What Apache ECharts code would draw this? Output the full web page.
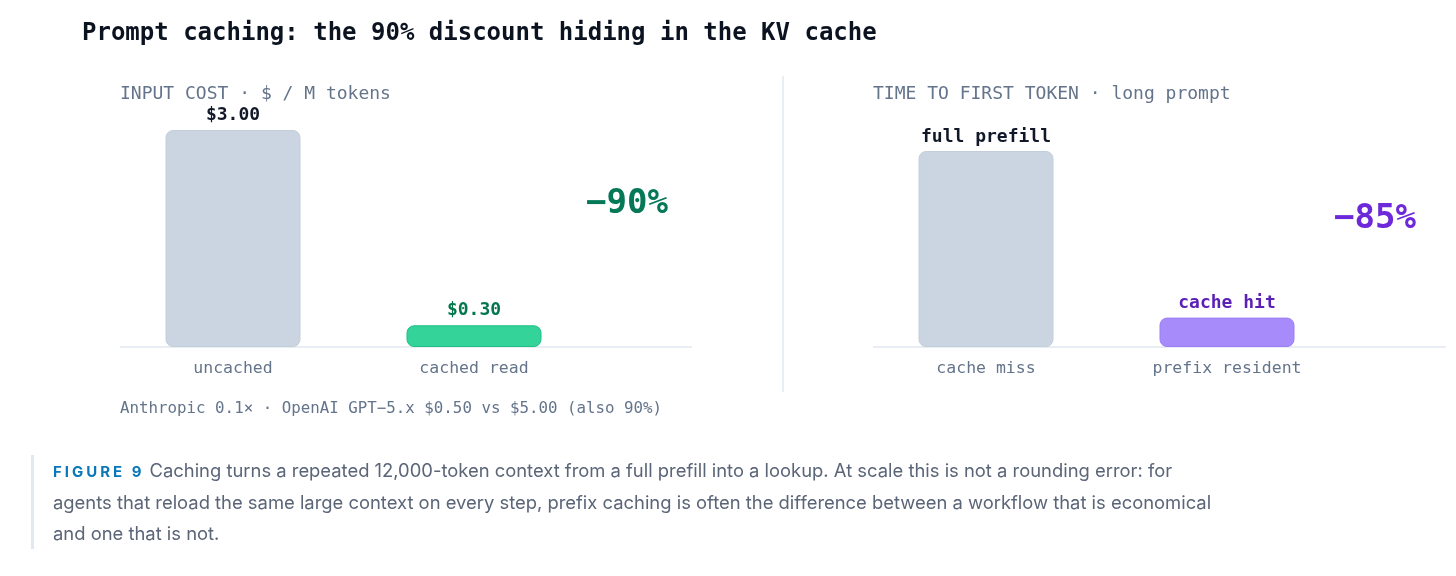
<!DOCTYPE html>
<html>
<head>
<meta charset="utf-8">
<script src="https://cdn.jsdelivr.net/npm/echarts@6/dist/echarts.min.js"></script>
<style>
  body { margin: 0; background: #fff; }
  #chart { position: absolute; left: 0; top: 0; width: 1456px; height: 576px; }
  .caption {
    position: absolute; left: 31px; top: 455px; width: 1300px;
    border-left: 3px solid #e2e8f0; padding-left: 19px;
    font-family: Inter, "Noto Sans", sans-serif; font-size: 18.4px;
    line-height: 31px; color: #5b6578;
  }
  .caption b { color: #0a78b8; font-size: 15px; letter-spacing: 3px; margin-right: 5px; }
</style>
</head>
<body>
<div id="chart"></div>
<div class="caption"><b>FIGURE 9</b>Caching turns a repeated 12,000-token context from a full prefill into a lookup. At scale this is not a rounding error: for<br>agents that reload the same large context on every step, prefix caching is often the difference between a workflow that is economical<br>and one that is not.</div>
<script>
  // input cost, $ per million tokens
  const costCats = ['uncached', 'cached read'];
  const costVals = [3.00, 0.30];
  // time to first token, relative (full prefill = 100)
  const ttftCats = ['cache miss', 'prefix resident'];
  const ttftVals = [100, 15];
  const ttftTags = ['full prefill', 'cache hit'];

  const mono = '"DejaVu Sans Mono", monospace';
  const grey = '#64748b';

  let chart = echarts.init(document.getElementById('chart'));

  let option = {
    animation: false,
    title: {
      text: 'Prompt caching: the 90% discount hiding in the KV cache',
      left: 77, top: 17,
      textStyle: { fontFamily: mono, fontSize: 24, fontWeight: 'bold', color: '#0b1220' }
    },
    grid: [
      { left: 112.5, top: 130, width: 482, height: 217 },
      { left: 865.5, top: 151, width: 482, height: 196 }
    ],
    xAxis: [0, 1].map(function(i) {
      return {
        type: 'category', gridIndex: i,
        data: i === 0 ? costCats : ttftCats,
        axisLine: { show: false }, axisTick: { show: false },
        axisLabel: { margin: 13, color: grey, fontFamily: mono, fontSize: 16.5 }
      };
    }),
    yAxis: [
      { type: 'value', gridIndex: 0, min: 0, max: 3, show: false },
      { type: 'value', gridIndex: 1, min: 0, max: 100, show: false }
    ],
    series: [
      {
        type: 'bar', xAxisIndex: 0, yAxisIndex: 0, barWidth: 135,
        data: costVals.map(function(v, i) {
          return {
            value: v,
            itemStyle: i === 0
              ? { color: '#cbd5e1', borderColor: '#c3cedb', borderWidth: 1 }
              : { color: '#34d399', borderColor: '#1fbf85', borderWidth: 1 },
            label: { color: i === 0 ? '#111827' : '#04774f' }
          };
        }),
        itemStyle: { borderRadius: 7 },
        label: {
          show: true, position: 'top', distance: 6,
          fontFamily: mono, fontSize: 18, fontWeight: 'bold',
          formatter: function(p) { return '$' + p.value.toFixed(2); }
        }
      },
      {
        type: 'bar', xAxisIndex: 1, yAxisIndex: 1, barWidth: 135,
        data: ttftVals.map(function(v, i) {
          return {
            value: v,
            itemStyle: i === 0
              ? { color: '#cbd5e1', borderColor: '#c3cedb', borderWidth: 1 }
              : { color: '#a78bfa', borderColor: '#9b7ff5', borderWidth: 1 },
            label: { color: i === 0 ? '#111827' : '#5b21b6' }
          };
        }),
        itemStyle: { borderRadius: 7 },
        label: {
          show: true, position: 'top', distance: 5,
          fontFamily: mono, fontSize: 18, fontWeight: 'bold',
          formatter: function(p) { return ttftTags[p.dataIndex]; }
        }
      }
    ],
    graphic: [
      // baselines
      { type: 'line', shape: { x1: 120, y1: 347, x2: 692, y2: 347 }, style: { stroke: '#e2e8f0', lineWidth: 1.5 } },
      { type: 'line', shape: { x1: 873, y1: 347, x2: 1446, y2: 347 }, style: { stroke: '#e2e8f0', lineWidth: 1.5 } },
      // divider
      { type: 'line', shape: { x1: 783, y1: 76, x2: 783, y2: 392 }, style: { stroke: '#e2e8f0', lineWidth: 1.5 } },
      // panel titles
      { type: 'text', left: 120, top: 85, style: { text: 'INPUT COST · $ / M tokens', fill: grey, font: '18px ' + mono } },
      { type: 'text', left: 873, top: 85, style: { text: 'TIME TO FIRST TOKEN · long prompt', fill: grey, font: '18px ' + mono } },
      // deltas
      { type: 'text', left: 586, top: 187, style: { text: '−90%', fill: '#047857', font: 'bold 34px ' + mono } },
      { type: 'text', left: 1334, top: 202, style: { text: '−85%', fill: '#6d28d9', font: 'bold 34px ' + mono } },
      // footnote
      { type: 'text', left: 120, top: 401, style: { text: 'Anthropic 0.1× · OpenAI GPT−5.x $0.50 vs $5.00 (also 90%)', fill: grey, font: '15.8px ' + mono } }
    ]
  };

  chart.setOption(option);
</script>
</body>
</html>
